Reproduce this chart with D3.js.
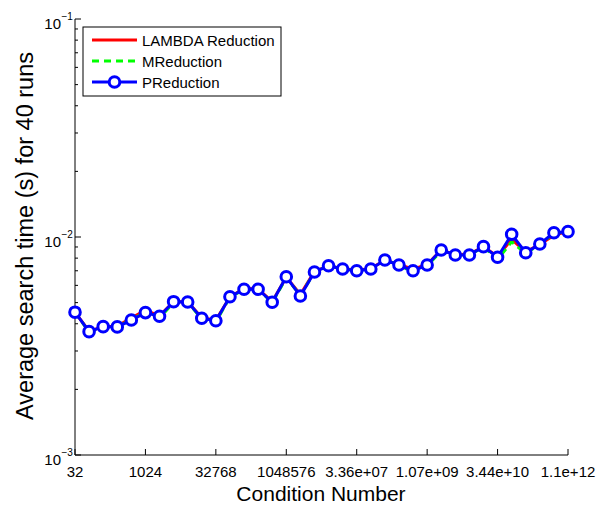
<!DOCTYPE html>
<html><head><meta charset="utf-8">
<script src="https://cdn.jsdelivr.net/npm/d3@7"></script>
<style>body{margin:0;background:#fff;} svg{display:block;font-family:"Liberation Sans",Arial,Helvetica,sans-serif;}</style>
</head><body>
<svg id="c" width="603" height="508"></svg>
<script>
// exponents of 2 for the condition number (2^5 .. 2^40)
const exponents = d3.range(5, 41);
const xTickExps = [5, 10, 15, 20, 25, 30, 35, 40];
const xTickLabels = ["32", "1024", "32768", "1048576", "3.36e+07", "1.07e+09", "3.44e+10", "1.1e+12"];
const yTickExps = [-3, -2, -1];

const pReduction = [0.00452,0.00368,0.00388,0.00387,0.00416,0.00450,0.00433,0.00505,0.00503,0.00424,0.00413,0.00532,
  0.00576,0.00576,0.00502,0.00657,0.00536,0.00691,0.00738,0.00713,0.00700,0.00713,0.00784,0.00744,
  0.00700,0.00744,0.00872,0.00827,0.00827,0.00903,0.00807,0.01029,0.00847,0.00929,0.01046,0.01058];
const lambdaReduction = [0.00452,0.00370,0.00388,0.00390,0.00425,0.00462,0.00435,0.00505,0.00505,0.00426,0.00415,0.00532,
  0.00580,0.00578,0.00505,0.00655,0.00545,0.00695,0.00738,0.00716,0.00705,0.00716,0.00784,0.00748,
  0.00712,0.00748,0.00872,0.00830,0.00835,0.00903,0.00815,0.00975,0.00855,0.00925,0.01020,0.01058];
const mReduction = [0.00452,0.00366,0.00386,0.00387,0.00418,0.00452,0.00425,0.00500,0.00503,0.00420,0.00408,0.00530,
  0.00574,0.00576,0.00500,0.00650,0.00540,0.00690,0.00738,0.00713,0.00703,0.00713,0.00784,0.00744,
  0.00690,0.00735,0.00865,0.00827,0.00827,0.00900,0.00790,0.00950,0.00840,0.00925,0.01040,0.01058];

const seriesNames = ["LAMBDA Reduction", "MReduction", "PReduction"];

const svg = d3.select("#c");
const L = 75, R = 568, T = 19, B = 455;
const x = d3.scaleLinear().domain([5, 40]).range([L, R]);
const y = d3.scaleLog().domain([1e-3, 1e-1]).range([B, T]);

// axes lines
svg.append("line").attr("x1", L).attr("x2", L).attr("y1", T).attr("y2", B).attr("stroke", "#000").attr("stroke-width", 1);
svg.append("line").attr("x1", L).attr("x2", R).attr("y1", B).attr("y2", B).attr("stroke", "#000").attr("stroke-width", 1);

// y ticks (major + minor), inward
const yMinor = [];
for (let e = -3; e < -1; e++) for (let m = 2; m <= 9; m++) yMinor.push(m * Math.pow(10, e));
yMinor.forEach(v => svg.append("line").attr("x1", L).attr("x2", L + 3).attr("y1", y(v)).attr("y2", y(v)).attr("stroke", "#000"));
yTickExps.forEach(e => {
  const yy = y(Math.pow(10, e));
  svg.append("line").attr("x1", L).attr("x2", L + 6).attr("y1", yy).attr("y2", yy).attr("stroke", "#000");
  svg.append("text").attr("x", 61).attr("y", yy + 10).attr("text-anchor", "end").attr("font-size", 15).text("10");
  svg.append("text").attr("x", 61.5).attr("y", yy + 0.5).attr("font-size", 10).text("\u2212" + String(-e));
});

// x ticks inward
xTickExps.forEach((e, i) => {
  const xx = x(e);
  svg.append("line").attr("x1", xx).attr("x2", xx).attr("y1", B).attr("y2", B - 6).attr("stroke", "#000");
  svg.append("text").attr("x", xx).attr("y", 477).attr("text-anchor", "middle").attr("font-size", 15).text(xTickLabels[i]);
});

// axis titles
svg.append("text").attr("x", 321).attr("y", 501).attr("text-anchor", "middle").attr("font-size", 21).text("Condition Number");
svg.append("text").attr("transform", "translate(33,236) rotate(-90)").attr("text-anchor", "middle").attr("font-size", 23.5)
  .text("Average search time (s) for 40 runs");

const line = d3.line().x((d, i) => x(exponents[i])).y(d => y(d));
svg.append("path").datum(lambdaReduction).attr("d", line).attr("fill", "none").attr("stroke", "#ff0000").attr("stroke-width", 3);
svg.append("path").datum(mReduction).attr("d", line).attr("fill", "none").attr("stroke", "#00ff00").attr("stroke-width", 3).attr("stroke-dasharray", "7,5");
svg.append("path").datum(pReduction).attr("d", line).attr("fill", "none").attr("stroke", "#0000ff").attr("stroke-width", 3);
svg.selectAll("circle.p").data(pReduction).enter().append("circle")
  .attr("cx", (d, i) => x(exponents[i])).attr("cy", d => y(d)).attr("r", 5.3)
  .attr("fill", "#fff").attr("stroke", "#0000ff").attr("stroke-width", 3);

// legend
const lg = svg.append("g");
lg.append("rect").attr("x", 83).attr("y", 27).attr("width", 198).attr("height", 69).attr("fill", "#fff").attr("stroke", "#000").attr("stroke-width", 1);
const lgY = [40, 61, 82];
const colors = ["#ff0000", "#00ff00", "#0000ff"];
seriesNames.forEach((n, i) => {
  const l = lg.append("line").attr("x1", 92).attr("x2", 137).attr("y1", lgY[i]).attr("y2", lgY[i]).attr("stroke", colors[i]).attr("stroke-width", 3);
  if (i === 1) l.attr("stroke-dasharray", "7,5");
  if (i === 2) lg.append("circle").attr("cx", 114.5).attr("cy", lgY[i]).attr("r", 5.3).attr("fill", "#fff").attr("stroke", "#0000ff").attr("stroke-width", 3);
  lg.append("text").attr("x", 142).attr("y", lgY[i] + 5.5).attr("font-size", 15).text(n);
});
</script>
</body></html>
